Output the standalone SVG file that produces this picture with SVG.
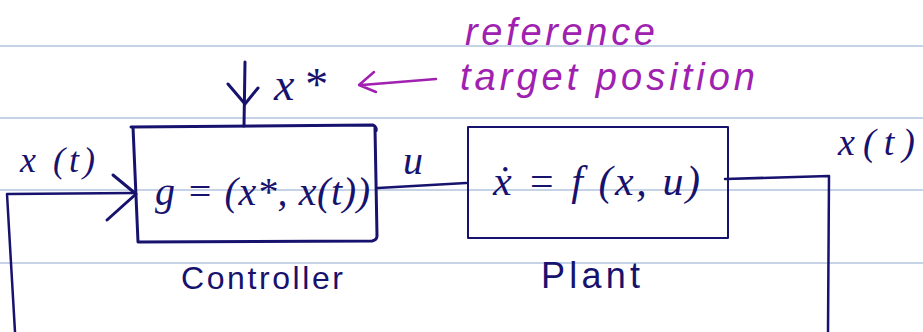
<svg xmlns="http://www.w3.org/2000/svg" width="923" height="332" viewBox="0 0 923 332">
<style>
.rule{stroke:#c6d2e6;stroke-width:2}
.ink{stroke:#17126e;fill:none;stroke-linecap:round;stroke-linejoin:round}
.math{font-family:"Liberation Serif",serif;font-style:italic;fill:#17126e}
.lab{font-family:"Liberation Sans",sans-serif;fill:#17126e}
.pur{font-family:"Liberation Sans",sans-serif;fill:#a020b0;font-style:italic}
</style>
<rect width="923" height="332" fill="#fff"/>
<g id="rules">
<line class="rule" x1="0" y1="46" x2="923" y2="46"/>
<line class="rule" x1="0" y1="118" x2="923" y2="118"/>
<line class="rule" x1="0" y1="190" x2="923" y2="190"/>
<line class="rule" x1="0" y1="263" x2="923" y2="263"/>
</g>
<g id="controller">
<path class="ink" stroke-width="3" d="M131,127 L373,125 Q377,127 376,131 L375,128 L377,236 Q377,240 372,241 L138,242 L133,127"/>
<text class="math" x="155" y="205" font-size="40" textLength="215" lengthAdjust="spacing">g = (x*, x(t))</text>
<text class="lab" x="181" y="289" font-size="32" textLength="162" lengthAdjust="spacing">Controller</text>
</g>
<g id="plant">
<rect class="ink" stroke-width="2" x="468" y="127" width="260" height="111"/>
<text class="math" x="493" y="195" font-size="42" textLength="207" lengthAdjust="spacing">ẋ = f (x, u)</text>
<text class="lab" x="541" y="288" font-size="36" textLength="99" lengthAdjust="spacing">Plant</text>
</g>
<g id="reference">
<text class="math" x="274" y="100" font-size="46" textLength="52" lengthAdjust="spacing">x*</text>
<text class="pur" x="465" y="45" font-size="38" textLength="190" lengthAdjust="spacing">reference</text>
<text class="pur" x="460" y="90" font-size="38" textLength="295" lengthAdjust="spacing">target position</text>
</g>
<g id="labels">
<text class="math" x="20" y="172" font-size="36" textLength="75" lengthAdjust="spacing">x (t)</text>
<text class="math" x="403" y="174" font-size="40">u</text>
<text class="math" x="838" y="155" font-size="38" textLength="77" lengthAdjust="spacing">x(t)</text>
</g>
<g id="connectors">
<path class="ink" stroke-width="3" d="M245,62 L244,126"/>
<path class="ink" stroke-width="3" d="M228,84 L245,104 L258,88"/>
<path fill="none" stroke="#a020b0" stroke-width="2.5" stroke-linecap="round" stroke-linejoin="round" d="M436,79 L362,85 M374,72 L359,85 L376,92"/>
<path class="ink" stroke-width="2.5" d="M15,332 L7,194 L135,193"/>
<path class="ink" stroke-width="3" d="M113,175 L136,194 L107,220"/>
<path class="ink" stroke-width="2.5" d="M378,188 L466,183"/>
<path class="ink" stroke-width="2.5" d="M725,179 L829,176 L828,332"/>
</g>
</svg>
